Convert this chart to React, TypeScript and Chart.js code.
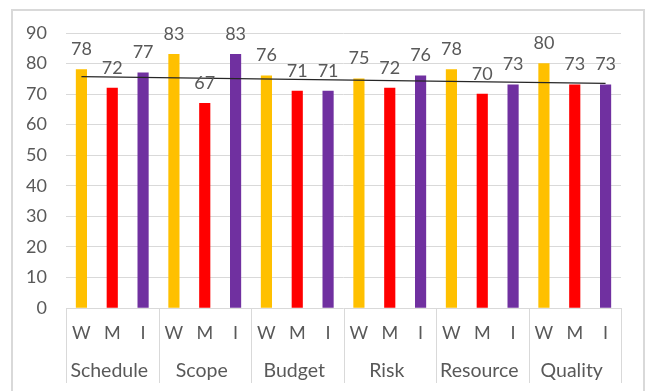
import React, { useEffect, useRef } from 'react';
import { Chart, registerables } from 'chart.js';

Chart.register(...registerables);

// Assessment areas and the three raters scored in each
const categories = ['Schedule', 'Scope', 'Budget', 'Risk', 'Resource', 'Quality'];
const raters = ['W', 'M', 'I'];
const wScores = [78, 83, 76, 75, 78, 80];
const mScores = [72, 67, 71, 72, 70, 73];
const iScores = [77, 83, 71, 76, 73, 73];
const raterColors = ['#FFC000', '#FF0000', '#7030A0'];
// Linear trend across all bars: value at the first and the last bar
const trendEnds = [75.7, 73.5];
const yMax = 90;
const yStep = 10;

const FONT = 'Lato, Calibri, "Open Sans", sans-serif';
const TEXT = '#595959';
const RULE = '#d9d9d9';

const barLabels: string[] = [];
const barValues: number[] = [];
const barColors: string[] = [];
categories.forEach((cat, i) => {
  [wScores[i], mScores[i], iScores[i]].forEach((v, j) => {
    barLabels.push(`${cat} ${raters[j]}`);
    barValues.push(v);
    barColors.push(raterColors[j]);
  });
});
const trendData: (number | null)[] = barValues.map(() => null);
trendData[0] = trendEnds[0];
trendData[trendData.length - 1] = trendEnds[1];

const decorPlugin = {
  id: 'decor',
  beforeDraw(chart: any) {
    const ctx = chart.ctx;
    ctx.save();
    ctx.strokeStyle = RULE;
    ctx.lineWidth = 2;
    ctx.strokeRect(12, 10, 632, 400);
    ctx.restore();
  },
  afterDraw(chart: any) {
    const ctx = chart.ctx;
    const area = chart.chartArea;
    const meta = chart.getDatasetMeta(1);
    ctx.save();
    ctx.font = `18px ${FONT}`;
    ctx.fillStyle = TEXT;
    ctx.textAlign = 'center';

    // value labels above the bars
    ctx.textBaseline = 'alphabetic';
    meta.data.forEach((bar: any, i: number) => {
      ctx.fillText(String(barValues[i]), bar.x, bar.y - 14.5);
    });

    // two-level category axis
    const groupW = (area.right - area.left) / categories.length;
    ctx.strokeStyle = RULE;
    ctx.lineWidth = 1;
    for (let g = 0; g <= categories.length; g++) {
      const x = Math.round(area.left + g * groupW) + 0.5;
      ctx.beginPath();
      ctx.moveTo(x, area.bottom);
      ctx.lineTo(x, area.bottom + 75);
      ctx.stroke();
    }
    ctx.textBaseline = 'middle';
    meta.data.forEach((bar: any, i: number) => {
      ctx.fillText(raters[i % raters.length], bar.x, area.bottom + 25);
    });
    ctx.font = `19.5px ${FONT}`;
    categories.forEach((cat, g) => {
      ctx.fillText(cat, area.left + (g + 0.5) * groupW - 3, area.bottom + 63);
    });
    ctx.restore();
  },
};

export default function App() {
  const canvasRef = useRef<HTMLCanvasElement | null>(null);

  useEffect(() => {
    if (!canvasRef.current) return;
    const chart = new Chart(canvasRef.current, {
      type: 'bar',
      data: {
        labels: barLabels,
        datasets: [
          {
            type: 'line',
            label: 'Trend',
            data: trendData,
            spanGaps: true,
            borderColor: '#262626',
            borderWidth: 1.2,
            pointRadius: 0,
            order: 0,
          } as any,
          {
            type: 'bar',
            label: 'Score',
            data: barValues,
            backgroundColor: barColors,
            barThickness: 10.5,
            order: 1,
          },
        ],
      },
      options: {
        responsive: false,
        animation: false,
        layout: { padding: { left: 0, top: 33, right: 32, bottom: 83 } },
        plugins: {
          legend: { display: false },
          tooltip: { enabled: false },
        },
        scales: {
          x: { display: false, offset: true },
          y: {
            min: 0,
            max: yMax,
            ticks: {
              stepSize: yStep,
              color: TEXT,
              font: { family: FONT, size: 18 },
              padding: 19,
            },
            grid: { color: RULE, lineWidth: 1, drawTicks: false },
            border: { display: false },
            afterFit(scale: any) {
              scale.width = 66;
            },
          },
        },
      },
      plugins: [decorPlugin],
    });
    return () => chart.destroy();
  }, []);

  return (
    <div style={{ position: 'absolute', left: 0, top: 0, width: 653, height: 391, background: '#fff' }}>
      <canvas ref={canvasRef} width={653} height={391} style={{ display: 'block' }} />
    </div>
  );
}
